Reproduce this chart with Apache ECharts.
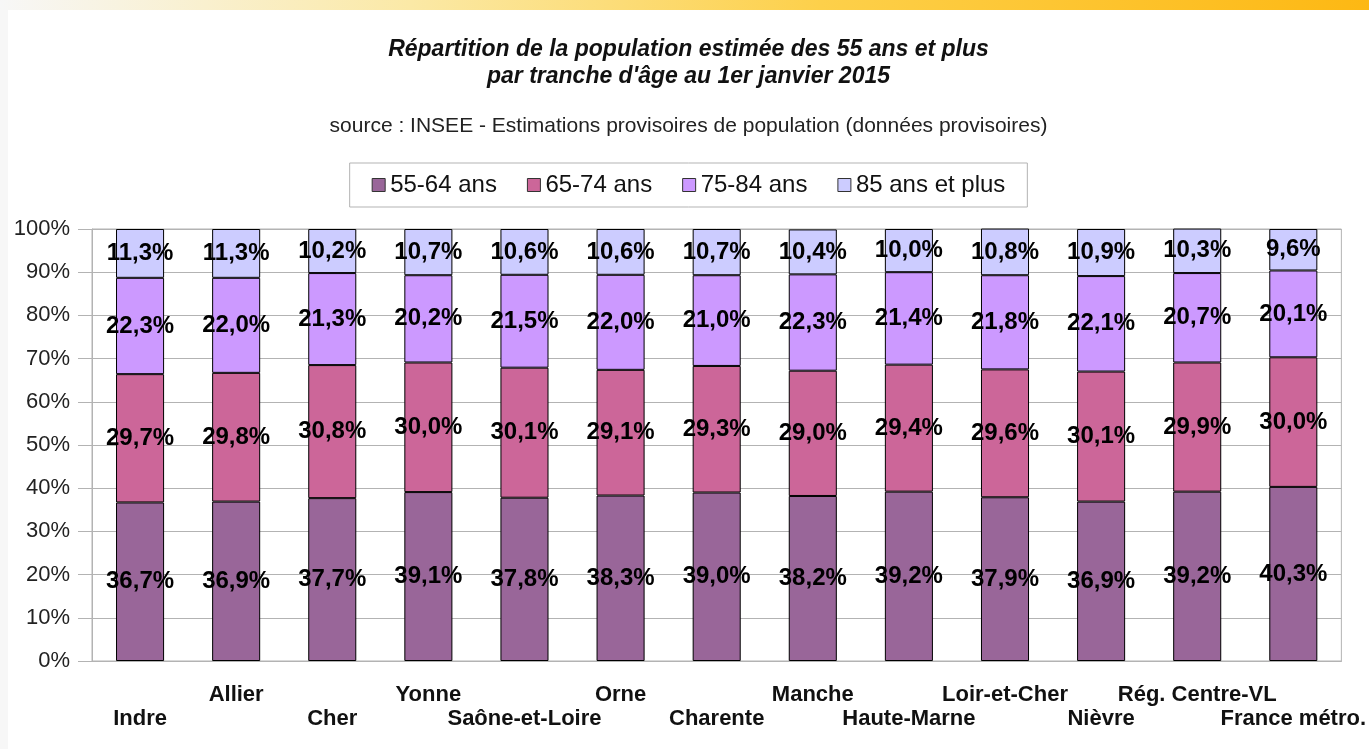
<!DOCTYPE html>
<html>
<head>
<meta charset="utf-8">
<script src="https://cdn.jsdelivr.net/npm/echarts@6/dist/echarts.min.js"></script>
<style>
  html, body { margin: 0; padding: 0; background: #f7f7f7; width: 1369px; height: 749px; overflow: hidden; }
  #bande { position: absolute; left: 0; top: 0; width: 1369px; height: 10px;
    background: linear-gradient(to right, #f7f7f7 0%, #fbe9a6 30%, #fdd04a 60%, #fdb813 100%); }
  #pic0 { position: absolute; left: 8px; top: 10px; width: 1361px; height: 739px; background: #fff; }
</style>
</head>
<body>
<div id="bande"></div>
<div id="pic0"></div>
<script>
// tranches d'age, valeurs
var territoires = ['Indre', 'Allier', 'Cher', 'Yonne', 'Saône-et-Loire', 'Orne', 'Charente',
    'Manche', 'Haute-Marne', 'Loir-et-Cher', 'Nièvre', 'Rég. Centre-VL', 'France métro.'];
var tranches = ['55-64 ans', '65-74 ans', '75-84 ans', '85 ans et plus'];
var t55_64 = [36.7, 36.9, 37.7, 39.1, 37.8, 38.3, 39.0, 38.2, 39.2, 37.9, 36.9, 39.2, 40.3];
var t65_74 = [29.7, 29.8, 30.8, 30.0, 30.1, 29.1, 29.3, 29.0, 29.4, 29.6, 30.1, 29.9, 30.0];
var t75_84 = [22.3, 22.0, 21.3, 20.2, 21.5, 22.0, 21.0, 22.3, 21.4, 21.8, 22.1, 20.7, 20.1];
var t85plus = [11.3, 11.3, 10.2, 10.7, 10.6, 10.6, 10.7, 10.4, 10.0, 10.8, 10.9, 10.3, 9.6];
var couleurs = ['#996699', '#cc6699', '#cc99ff', '#ccccff'];

var police = 'Liberation Sans';
var myChart = echarts.init(document.getElementById('pic0'));

function serie(nom, valeurs) {
    return {
        name: nom,
        type: 'bar',
        stack: 'total',
        barWidth: '50%',
        itemStyle: { borderColor: '#000', borderWidth: 1 },
        label: {
            show: true,
            position: 'inside',
            color: '#000',
            fontFamily: police,
            fontWeight: 'bold',
            fontSize: 24,
            formatter: function (p) { return p.value.toFixed(1).replace('.', ',') + '%'; }
        },
        data: valeurs
    };
}

var option = {
    animation: false,
    color: couleurs,
    title: {
        text: 'Répartition de la population estimée des 55 ans et plus\npar tranche d\'âge au 1er janvier 2015',
        subtext: 'source : INSEE - Estimations provisoires de population (données provisoires)',
        left: 'center',
        top: 21,
        itemGap: 26,
        textStyle: { fontFamily: police, fontSize: 23, fontStyle: 'italic', fontWeight: 'bold', color: '#111', lineHeight: 27 },
        subtextStyle: { fontFamily: police, fontSize: 21, color: '#222' }
    },
    legend: {
        data: tranches,
        top: 153,
        left: 'center',
        padding: [10, 22],
        borderColor: '#b3b3b3',
        borderWidth: 1,
        itemWidth: 13,
        itemHeight: 13,
        itemGap: 30,
        icon: 'rect',
        itemStyle: { borderColor: '#333', borderWidth: 1 },
        textStyle: { fontFamily: police, fontSize: 24, color: '#111' }
    },
    grid: {
        left: 84,
        right: 26,
        top: 219,
        bottom: 88,
        show: true,
        borderColor: '#b3b3b3',
        borderWidth: 1
    },
    xAxis: {
        type: 'category',
        data: territoires,
        axisLine: { lineStyle: { color: '#b3b3b3' } },
        axisTick: { length: 13, lineStyle: { color: '#b3b3b3' } },
        axisLabel: {
            interval: 0,
            hideOverlap: false,
            margin: 22,
            fontFamily: police,
            fontWeight: 'bold',
            fontSize: 22,
            color: '#111',
            lineHeight: 24,
            formatter: function (v, i) { return i % 2 ? v + '\n ' : ' \n' + v; }
        }
    },
    yAxis: {
        type: 'value',
        min: 0,
        max: 100,
        interval: 10,
        axisLine: { show: true, lineStyle: { color: '#b3b3b3' } },
        axisTick: { show: true, length: 14, lineStyle: { color: '#b3b3b3' } },
        splitLine: { lineStyle: { color: '#b3b3b3' } },
        axisLabel: { margin: 22, fontFamily: police, fontSize: 22, color: '#222', formatter: '{value}%' }
    },
    series: [
        serie(tranches[0], t55_64),
        serie(tranches[1], t65_74),
        serie(tranches[2], t75_84),
        serie(tranches[3], t85plus)
    ]
};

myChart.setOption(option);
</script>
</body>
</html>
